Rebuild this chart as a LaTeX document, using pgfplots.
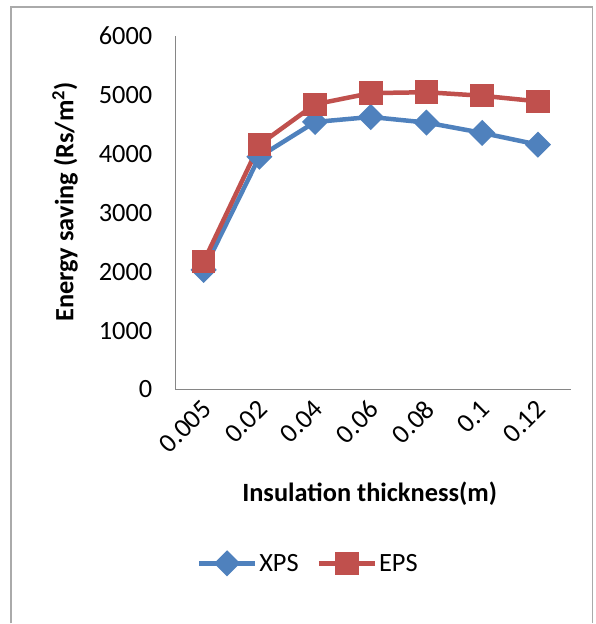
\documentclass[border=0pt]{standalone}
\usepackage{pgfplots}
\pgfplotsset{compat=1.18}
\usepackage{fontspec}
\setmainfont{Carlito}
\definecolor{xpsblue}{RGB}{79,129,189}
\definecolor{epsred}{RGB}{192,80,77}
\definecolor{axgray}{RGB}{134,134,134}
\begin{document}
\begin{tikzpicture}[x=1bp,y=1bp]
\fill[white] (0,0) rectangle (596,624);
\draw[axgray!70, line width=1.5bp] (11,0) -- (11,617) -- (593,617) -- (593,0);
\begin{axis}[
  at={(176bp,234bp)}, anchor=origin,
  scale only axis, width=396bp, height=354bp,
  xmin=0.5, xmax=7.6, ymin=0, ymax=6000,
  axis x line*=bottom, axis y line*=left,
  axis line style={axgray, line width=1.2bp, -},
  xtick={1,...,7},
  xticklabels={0.005,0.02,0.04,0.06,0.08,0.1,0.12},
  ytick={0,1000,...,6000},
  major tick length=0pt,
  /pgf/number format/assume math mode=true,
  scaled y ticks=false,
  yticklabel style={font=\fontsize{26.5}{30}\selectfont, xshift=-20bp},
  xticklabel style={font=\fontsize{27}{30}\selectfont, xshift=-3bp, yshift=-4bp, rotate=45, anchor=north east},
  yticklabel={\pgfmathprintnumber[fixed,1000 sep={}]{\tick}},
  xlabel={\textbf{Insulation thickness(m)}},
  ylabel={\textbf{Energy saving (Rs/m\textsuperscript{2})}},
  label style={font=\fontsize{26.5}{30}\selectfont},
  xlabel style={at={(axis description cs:0.49,0)}, anchor=center, yshift=-104bp},
  ylabel style={at={(axis description cs:-0.28,0.53)}, anchor=center},
  legend style={at={(axis description cs:0.335,0)}, anchor=center, yshift=-174bp, draw=none, fill=none,
    font=\fontsize{26.5}{30}\selectfont, legend columns=2,
    /tikz/every even column/.append style={column sep=16bp}},
  legend image code/.code={\draw[#1, mark repeat=2, mark phase=2] plot coordinates {(0bp,0bp) (28bp,0bp) (56bp,0bp)};},
  clip=false,
]
\addplot[color=xpsblue, line width=4.5bp, mark=square*, mark size=7bp, mark options={rotate=45, solid}]
  coordinates {(1,2030) (2,3950) (3,4540) (4,4625) (5,4530) (6,4355) (7,4155)};
\addlegendentry{XPS}
\addplot[color=epsred, line width=4.5bp, mark=square*, mark size=9.5bp, mark options={solid}]
  coordinates {(1,2170) (2,4155) (3,4840) (4,5030) (5,5045) (6,4985) (7,4890)};
\addlegendentry{EPS}
\end{axis}
\end{tikzpicture}
\end{document}
